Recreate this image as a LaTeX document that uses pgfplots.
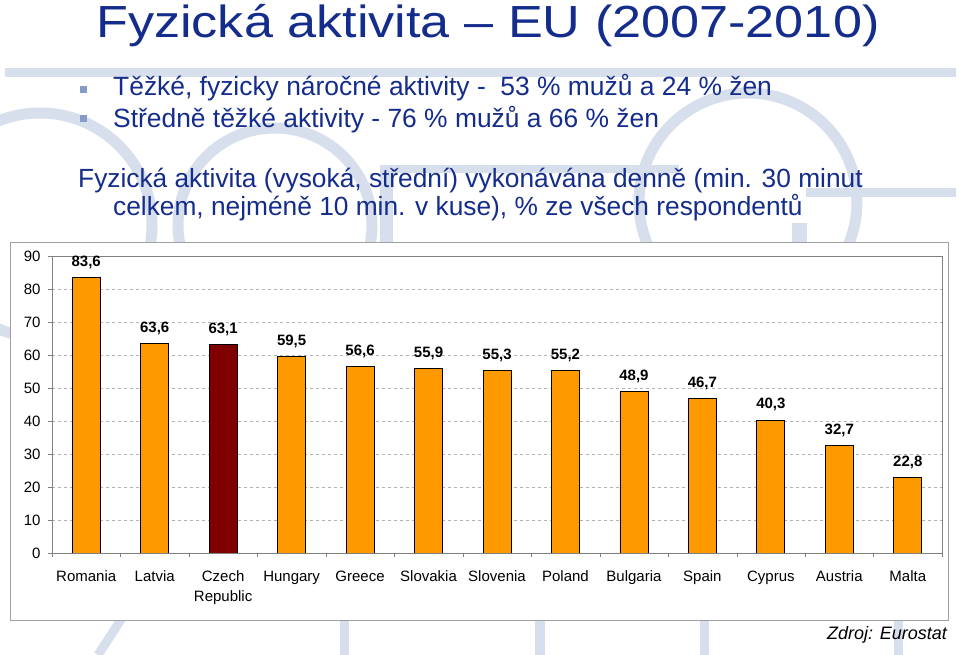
\documentclass[border=0pt]{standalone}
\usepackage{fontspec}
\setmainfont{Liberation Sans}
\newfontfamily\titlefont[FakeStretch=1.16]{Liberation Sans}
\usepackage{pgfplots}
\pgfplotsset{compat=1.18}
\definecolor{slideblue}{RGB}{20,44,140}
\definecolor{deco}{RGB}{215,222,236}
\definecolor{bulletc}{RGB}{135,155,200}
\definecolor{barorange}{RGB}{255,153,0}
\definecolor{czred}{RGB}{128,0,0}
\definecolor{framegray}{RGB}{160,160,160}

\begin{document}
\begin{tikzpicture}[x=1bp,y=1bp]
\path[use as bounding box] (0,0) rectangle (959,655);
\begin{scope}
\clip (0,0) rectangle (959,655);
\fill[white] (0,0) rectangle (959,655);
% slide template shapes
\fill[deco] (5,578) rectangle (956,587);
\draw[deco, line width=11bp] (40,430) circle (112bp);
\draw[deco, line width=11bp] (275,430) circle (97bp);
\draw[deco, line width=11bp] (748,453) circle (109bp);
\fill[deco] (380,400) rectangle (393,490);
\fill[deco] (380,482) rectangle (679,490);
\fill[deco] (792,400) rectangle (807,432);
\fill[deco] (806,458) rectangle (956,467);
\fill[deco] (340,0) rectangle (349,40);
\fill[deco] (535,0) rectangle (545,40);
\fill[deco] (700,0) rectangle (709,40);
\fill[deco] (894,0) rectangle (903,40);
\draw[deco, line width=9bp] (124,40) -- (98,0);
\end{scope}

% title and text
\node[anchor=base west, inner sep=0, text=slideblue, font=\titlefont\fontsize{45bp}{54bp}\selectfont] at (96,617) {Fyzická aktivita – EU (2007-2010)};
\fill[bulletc] (80,562) rectangle (87,569);
\fill[bulletc] (80,533) rectangle (87,540);
\node[anchor=base west, inner sep=0, text=slideblue, font=\fontsize{26.4bp}{31bp}\selectfont] at (113,559) {Těžké, fyzicky náročné aktivity - \ 53 \% mužů a 24 \% žen};
\node[anchor=base west, inner sep=0, text=slideblue, font=\fontsize{26.4bp}{31bp}\selectfont] at (113,527) {Středně těžké aktivity - 76 \% mužů a 66 \% žen};
\node[anchor=base west, inner sep=0, text=slideblue, font=\fontsize{26.3bp}{31bp}\selectfont] at (78,467) {Fyzická aktivita (vysoká, střední) vykonávána denně (min. 30 minut};
\node[anchor=base west, inner sep=0, text=slideblue, font=\fontsize{26.3bp}{31bp}\selectfont] at (113,439) {celkem, nejméně 10 min. v kuse), \% ze všech respondentů};

% chart frame
\draw[framegray, line width=1bp, fill=white] (10,34) rectangle (948,412);

\begin{axis}[
    at={(52bp,102bp)}, anchor=south west,
    scale only axis, width=890bp, height=297bp,
    ymin=0, ymax=90, ytick={0,10,...,90},
    xmin=-0.5, xmax=12.5,
    xtick={0,...,12},
    xticklabels={Romania,Latvia,{\begin{tabular}[t]{@{}c@{}}Czech\\Republic\end{tabular}},Hungary,Greece,Slovakia,Slovenia,Poland,Bulgaria,Spain,Cyprus,Austria,Malta},
    minor xtick={-0.5,0.5,...,12.5},
    major x tick style={draw=none},
    minor x tick style={gray},
    major y tick style={gray},
    tick align=outside, tick pos=left,
    major tick length=4bp, minor tick length=4bp,
    x tick label style={font=\fontsize{15bp}{20bp}\selectfont, execute at begin node=\strut, yshift=-7bp},
    y tick label style={font=\fontsize{15bp}{18bp}\selectfont, xshift=-4bp},
    /pgf/number format/assume math mode=true,
    axis line style={gray},
    ymajorgrids, grid style={gray!60, dash pattern=on 3bp off 3bp},
    ybar, bar width=28bp,
    nodes near coords={\pgfmathprintnumber[fixed,fixed zerofill,precision=1,use comma,assume math mode=true]{\pgfplotspointmeta}},
    nodes near coords style={font=\fontsize{15bp}{18bp}\selectfont\bfseries, text=black, yshift=5bp},
]
\addplot[bar shift=0pt, fill=barorange, draw=black, line width=0.8bp] coordinates {
    (0,83.6) (1,63.6) (3,59.5) (4,56.6) (5,55.9) (6,55.3) (7,55.2)
    (8,48.9) (9,46.7) (10,40.3) (11,32.7) (12,22.8)
};
\addplot[bar shift=0pt, fill=czred, draw=black, line width=0.8bp] coordinates {
    (2,63.1)
};
\end{axis}

\node[anchor=base east, inner sep=0, font=\fontsize{18bp}{20bp}\selectfont\itshape] at (947,15) {Zdroj: Eurostat};
\end{tikzpicture}
\end{document}
